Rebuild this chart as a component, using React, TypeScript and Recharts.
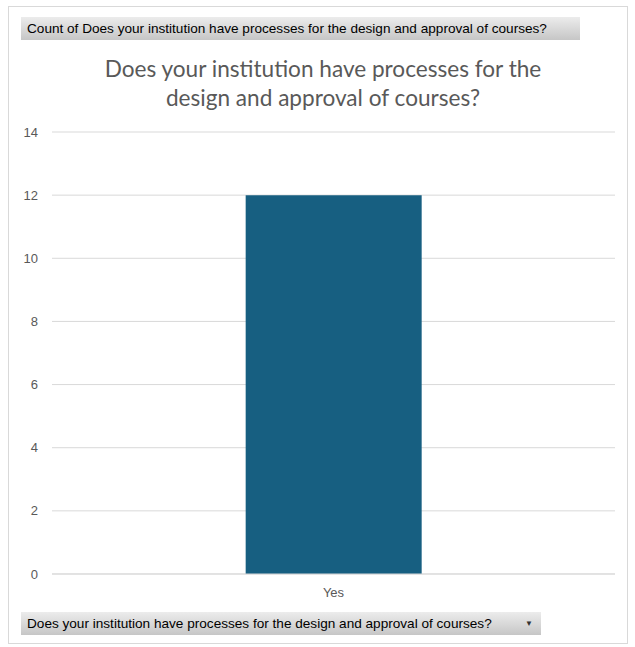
import { BarChart, Bar, XAxis, YAxis, CartesianGrid } from "recharts";

const categories = ["Yes"];
const counts = [12];
const yTicks = [0, 2, 4, 6, 8, 10, 12, 14];

const fieldName = "Does your institution have processes for the design and approval of courses?";

const data = categories.map((name, i) => ({ name, count: counts[i] }));

const buttonStyle: React.CSSProperties = {
  position: "absolute",
  height: 23,
  background: "linear-gradient(#ececec, #c6c6c6)",
  fontFamily: "'Liberation Sans', Arial, sans-serif",
  fontSize: 13.6,
  color: "#000",
  lineHeight: "23px",
  paddingLeft: 6,
  boxSizing: "border-box",
  whiteSpace: "nowrap",
};

const App = () => {
  return (
    <div style={{ position: "absolute", left: 0, top: 0, width: 635, height: 647, background: "#fff" }}>
      <div
        style={{
          position: "absolute",
          left: 8,
          top: 6,
          width: 620,
          height: 638,
          border: "1px solid #d9d9d9",
          boxSizing: "border-box",
        }}
      />
      <div style={{ ...buttonStyle, left: 21, top: 17, width: 559 }}>Count of {fieldName}</div>
      <div
        style={{
          position: "absolute",
          left: 0,
          top: 54,
          width: 646,
          textAlign: "center",
          fontFamily: "Lato, 'Open Sans', sans-serif",
          fontSize: 22.6,
          lineHeight: "29px",
          color: "#595959",
        }}
      >
        Does your institution have processes for the
        <br />
        design and approval of courses?
      </div>
      <div style={{ position: "absolute", left: 0, top: 0 }}>
        <BarChart
          width={635}
          height={647}
          data={data}
          margin={{ top: 132, right: 20, left: 0, bottom: 43 }}
          barCategoryGap="34.4%"
        >
          <CartesianGrid vertical={false} stroke="#d9d9d9" />
          <YAxis
            width={52}
            domain={[0, 14]}
            ticks={yTicks}
            axisLine={false}
            tickLine={false}
            tickSize={0}
            tickMargin={14}
            tick={{ fill: "#595959", fontSize: 13, fontFamily: "'Liberation Sans', Arial, sans-serif" }}
          />
          <XAxis
            dataKey="name"
            height={30}
            axisLine={{ stroke: "#d9d9d9" }}
            tickLine={false}
            tickSize={0}
            tickMargin={14}
            tick={{ fill: "#595959", fontSize: 13, fontFamily: "'Liberation Sans', Arial, sans-serif" }}
          />
          <Bar dataKey="count" fill="#175f81" isAnimationActive={false} />
        </BarChart>
      </div>
      <div style={{ ...buttonStyle, left: 21, top: 612, width: 520 }}>
        {fieldName}
        <span style={{ position: "absolute", left: 504, top: 0, fontSize: 8, color: "#333" }}>▼</span>
      </div>
    </div>
  );
};

export default App;
